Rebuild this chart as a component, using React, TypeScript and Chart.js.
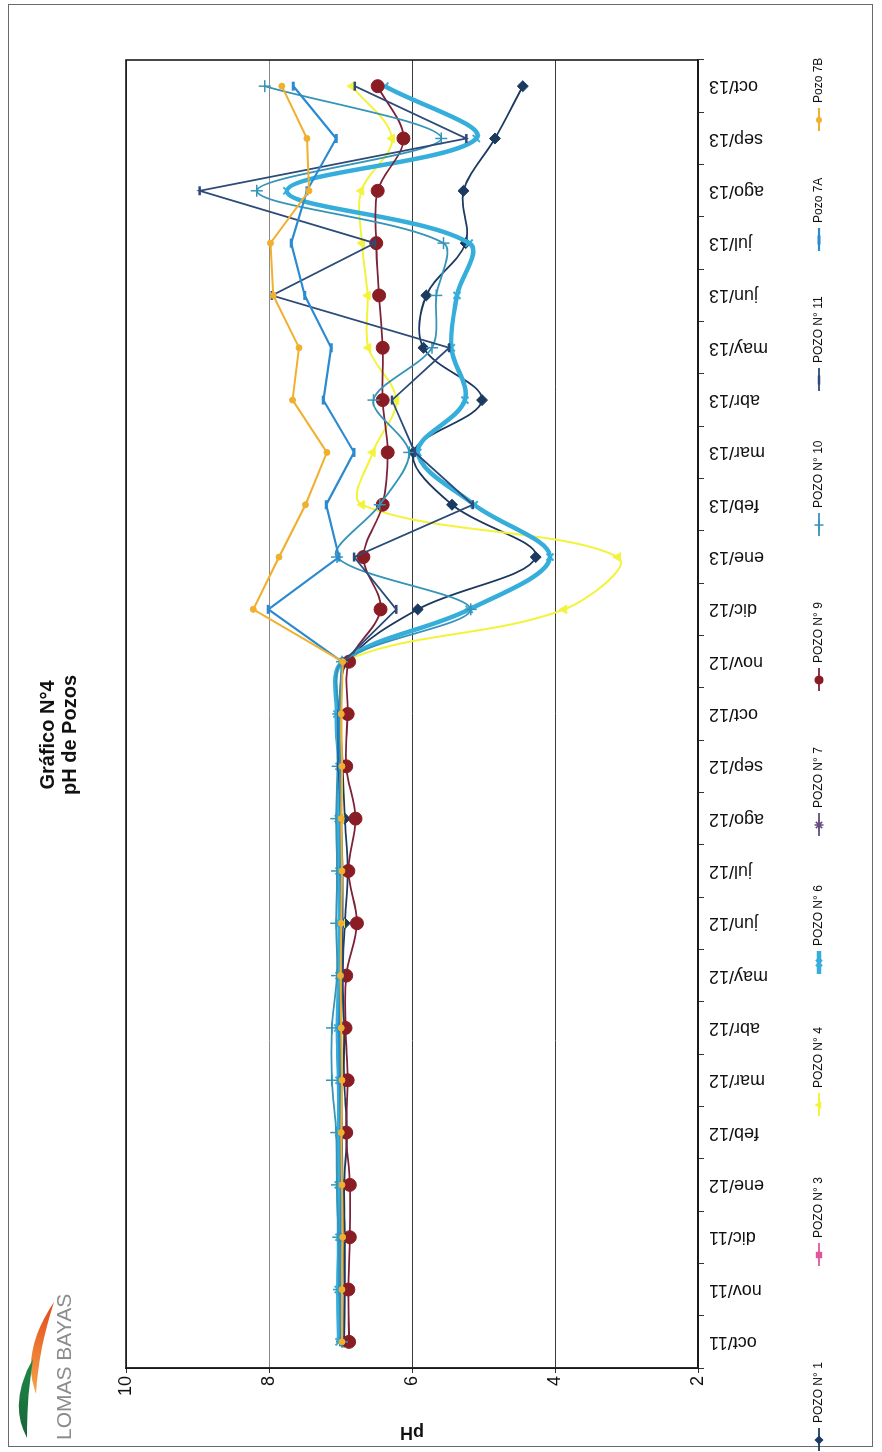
import React, { useEffect, useRef } from 'react';
import { Chart, registerables } from 'chart.js';

Chart.register(...registerables);

// ---------- DATA ----------
const months = [
  'oct/11', 'nov/11', 'dic/11', 'ene/12', 'feb/12', 'mar/12', 'abr/12', 'may/12', 'jun/12',
  'jul/12', 'ago/12', 'sep/12', 'oct/12', 'nov/12', 'dic/12', 'ene/13', 'feb/13', 'mar/13',
  'abr/13', 'may/13', 'jun/13', 'jul/13', 'ago/13', 'sep/13', 'oct/13',
];

const phMin = 2;
const phMax = 10;
const phStep = 2;

const pozo1 = [6.95, 6.94, 6.94, 6.95, 6.91, 6.95, 6.95, 6.97, 6.94, 6.9, 6.94, 6.97, 7.0, 6.9, 5.92, 4.27, 5.44, 5.98, 5.02, 5.84, 5.8, 5.25, 5.28, 4.84, 4.45];
const pozo3: (number | null)[] = [null, null, null, null, null, null, null, null, null, null, null, null, null, null, null, null, null, null, null, null, null, null, null, null, null];
const pozo4 = [6.99, 6.98, 6.98, 6.99, 6.99, 6.98, 6.99, 6.99, 6.98, 6.99, 6.99, 6.98, 7.01, 6.96, 3.87, 3.12, 6.7, 6.55, 6.22, 6.61, 6.62, 6.7, 6.71, 6.28, 6.84];
const pozo6 = [7.02, 7.03, 7.02, 7.03, 7.02, 7.02, 7.04, 7.02, 7.01, 7.02, 7.03, 7.02, 7.05, 6.97, 5.2, 4.07, 5.13, 5.92, 5.26, 5.45, 5.37, 5.2, 7.75, 5.1, 6.38];
const pozo7: (number | null)[] = [null, null, null, null, null, null, null, null, null, null, null, null, null, null, null, null, null, null, null, null, null, null, null, null, null];
const pozo9 = [6.88, 6.89, 6.87, 6.87, 6.92, 6.9, 6.93, 6.92, 6.77, 6.89, 6.79, 6.92, 6.9, 6.88, 6.44, 6.68, 6.41, 6.34, 6.41, 6.41, 6.46, 6.5, 6.48, 6.12, 6.48];
const pozo10 = [6.98, 7.02, 7.03, 7.05, 7.06, 7.12, 7.12, 7.05, 7.06, 7.05, 7.06, 7.04, 7.03, 6.98, 5.18, 7.05, 6.45, 6.04, 6.54, 5.72, 5.66, 5.56, 8.17, 5.59, 8.06];
const pozo11 = [6.97, 6.97, 6.96, 6.97, 6.98, 6.99, 6.99, 6.97, 6.97, 6.97, 6.99, 7.03, 7.03, 6.96, 6.22, 6.81, 5.15, 5.96, 6.28, 5.48, 7.96, 6.52, 8.97, 5.24, 6.8];
const pozo7A = [7.0, 7.0, 7.0, 6.99, 7.0, 7.01, 7.02, 7.0, 6.99, 7.0, 7.0, 7.01, 7.02, 6.98, 8.01, 7.02, 7.2, 6.81, 7.24, 7.13, 7.5, 7.69, 7.47, 7.06, 7.66];
const pozo7B = [6.98, 6.98, 6.97, 6.98, 6.99, 6.98, 6.99, 7.0, 6.99, 6.98, 6.99, 6.98, 6.99, 6.97, 8.22, 7.86, 7.49, 7.19, 7.67, 7.58, 7.94, 7.98, 7.44, 7.47, 7.82];

const seriesLabels = ['POZO N° 1', 'POZO N° 3', 'POZO N° 4', 'POZO N° 6', 'POZO N° 7', 'POZO N° 9', 'POZO N° 10', 'POZO N° 11', 'Pozo 7A', 'Pozo 7B'];
const seriesValues = [pozo1, pozo3, pozo4, pozo6, pozo7, pozo9, pozo10, pozo11, pozo7A, pozo7B];

const chartTitle = ['Gráfico N°4', 'pH de Pozos'];
const axisTitle = 'pH';
const logoText = 'LOMAS BAYAS';

// ---------- STYLES / LAYOUT ----------
type Style = { color: string; fill: string; width: number; point: string; radius: number; pw: number; tension: number };
const styles: Style[] = [
  { color: '#1c3a60', fill: '#1c3a60', width: 1.8, point: 'rectRot', radius: 5.5, pw: 1, tension: 0.35 },
  { color: '#e2559b', fill: '#e2559b', width: 1.8, point: 'rect', radius: 4, pw: 1, tension: 0.35 },
  { color: '#f4f33c', fill: '#f4f33c', width: 2, point: 'triangle', radius: 5, pw: 1, tension: 0.35 },
  { color: '#36aedb', fill: '#36aedb', width: 4.5, point: 'crossRot', radius: 5, pw: 2, tension: 0.35 },
  { color: '#664c80', fill: '#664c80', width: 1.8, point: 'star', radius: 5, pw: 1.5, tension: 0.35 },
  { color: '#7c2138', fill: '#8a1c24', width: 1.8, point: 'circle', radius: 6.5, pw: 1, tension: 0.35 },
  { color: '#3594b8', fill: '#3594b8', width: 1.8, point: 'cross', radius: 6, pw: 1.5, tension: 0.3 },
  { color: '#2c4b78', fill: '#2c4b78', width: 1.8, point: 'line', radius: 4.5, pw: 2.5, tension: 0 },
  { color: '#2b8ad0', fill: '#2b8ad0', width: 2.2, point: 'line', radius: 4.5, pw: 3, tension: 0 },
  { color: '#f0b02e', fill: '#f0b02e', width: 2, point: 'circle', radius: 3, pw: 1, tension: 0 },
];
// legend marker centres (canvas x, before the page rotation)
const legendSlots = [12, 197, 347, 489, 627, 772, 927, 1072, 1212, 1332];

const FONT = '"Liberation Sans", Arial, sans-serif';

function drawMarker(ctx: CanvasRenderingContext2D, style: string, x: number, y: number, r: number, fill: string, stroke: string, lw: number) {
  ctx.save();
  ctx.fillStyle = fill;
  ctx.strokeStyle = stroke;
  ctx.lineWidth = lw;
  ctx.beginPath();
  switch (style) {
    case 'circle':
      ctx.arc(x, y, r, 0, Math.PI * 2);
      ctx.fill();
      break;
    case 'rectRot':
      ctx.moveTo(x, y - r); ctx.lineTo(x + r, y); ctx.lineTo(x, y + r); ctx.lineTo(x - r, y); ctx.closePath();
      ctx.fill();
      break;
    case 'rect':
      ctx.rect(x - r * 0.8, y - r * 0.8, r * 1.6, r * 1.6);
      ctx.fill();
      break;
    case 'triangle':
      ctx.moveTo(x, y - r); ctx.lineTo(x + r * 0.87, y + r * 0.5); ctx.lineTo(x - r * 0.87, y + r * 0.5); ctx.closePath();
      ctx.fill();
      break;
    case 'cross':
      ctx.moveTo(x - r, y); ctx.lineTo(x + r, y); ctx.moveTo(x, y - r); ctx.lineTo(x, y + r);
      ctx.stroke();
      break;
    case 'crossRot':
      ctx.moveTo(x - r * 0.7, y - r * 0.7); ctx.lineTo(x + r * 0.7, y + r * 0.7);
      ctx.moveTo(x + r * 0.7, y - r * 0.7); ctx.lineTo(x - r * 0.7, y + r * 0.7);
      ctx.stroke();
      break;
    case 'star':
      ctx.moveTo(x - r, y); ctx.lineTo(x + r, y); ctx.moveTo(x, y - r); ctx.lineTo(x, y + r);
      ctx.moveTo(x - r * 0.7, y - r * 0.7); ctx.lineTo(x + r * 0.7, y + r * 0.7);
      ctx.moveTo(x + r * 0.7, y - r * 0.7); ctx.lineTo(x - r * 0.7, y + r * 0.7);
      ctx.stroke();
      break;
    case 'line':
    default:
      ctx.moveTo(x - r, y); ctx.lineTo(x + r, y);
      ctx.stroke();
  }
  ctx.restore();
}

const plotBorder = {
  id: 'plotBorder',
  beforeDatasetsDraw(chart: any) {
    const { ctx, chartArea: a } = chart;
    ctx.save();
    ctx.strokeStyle = '#1a1a1a';
    ctx.lineWidth = 1.6;
    ctx.strokeRect(a.left, a.top, a.right - a.left, a.bottom - a.top);
    ctx.restore();
  },
};

const legendPlugin = {
  id: 'pozoLegend',
  afterDraw(chart: any) {
    const ctx: CanvasRenderingContext2D = chart.ctx;
    ctx.save();
    ctx.font = '12px ' + FONT;
    ctx.textBaseline = 'middle';
    ctx.textAlign = 'left';
    const y = 819;
    chart.data.datasets.forEach((ds: any, i: number) => {
      const st = styles[i];
      const cx = legendSlots[i];
      ctx.strokeStyle = st.color;
      ctx.lineWidth = Math.min(st.width, 4.5);
      ctx.beginPath();
      ctx.moveTo(cx - 11, y);
      ctx.lineTo(cx + 12, y);
      ctx.stroke();
      drawMarker(ctx, st.point, cx, y, Math.min(st.radius, 4.5), st.fill, st.fill, Math.max(1, st.pw));
      ctx.fillStyle = '#111';
      ctx.fillText(ds.label, cx + 17, y);
    });
    ctx.restore();
  },
};

const logoPlugin = {
  id: 'logo',
  afterDraw(chart: any) {
    const ctx: CanvasRenderingContext2D = chart.ctx;
    ctx.save();
    const g1 = ctx.createLinearGradient(150, 50, 55, 35);
    g1.addColorStop(0, '#e4481b');
    g1.addColorStop(1, '#f5a84a');
    ctx.fillStyle = g1;
    ctx.beginPath();
    ctx.moveTo(150, 54);
    ctx.quadraticCurveTo(100, 20, 58, 36);
    ctx.quadraticCurveTo(100, 38, 150, 54);
    ctx.fill();
    const g2 = ctx.createLinearGradient(92, 32, 15, 25);
    g2.addColorStop(0, '#1f8a45');
    g2.addColorStop(1, '#17643a');
    ctx.fillStyle = g2;
    ctx.beginPath();
    ctx.moveTo(93, 33);
    ctx.quadraticCurveTo(50, 8, 14, 27);
    ctx.quadraticCurveTo(50, 26, 93, 33);
    ctx.fill();
    ctx.fillStyle = '#8c8c8c';
    ctx.font = '21px ' + FONT;
    ctx.textBaseline = 'alphabetic';
    ctx.fillText(logoText, 12, 71, 156);
    ctx.restore();
  },
};

export default function App() {
  const ref = useRef<HTMLCanvasElement | null>(null);

  useEffect(() => {
    if (!ref.current) return;
    const datasets = seriesValues.map((vals, i) => {
      const st = styles[i];
      return {
        label: seriesLabels[i],
        data: vals,
        borderColor: st.color,
        backgroundColor: st.fill,
        borderWidth: st.width,
        pointStyle: st.point,
        pointRadius: st.radius,
        pointHoverRadius: st.radius,
        pointBorderWidth: st.pw,
        pointBackgroundColor: st.fill,
        pointBorderColor: st.fill,
        tension: st.tension,
        spanGaps: true,
        order: 20 - i,
        yAxisID: 'y',
      };
    });

    const chart = new Chart(ref.current, {
      type: 'line',
      data: { labels: months, datasets },
      plugins: [plotBorder, legendPlugin, logoPlugin],
      options: {
        animation: false,
        responsive: false,
        devicePixelRatio: 1,
        layout: { padding: { left: 0, right: 18, top: 0, bottom: 110 } },
        plugins: {
          legend: { display: false },
          tooltip: { enabled: false },
          title: {
            display: true,
            text: chartTitle,
            color: '#111',
            font: { family: FONT, size: 20, weight: 'bold', lineHeight: 1.1 },
            padding: { top: 37, bottom: 45 },
          },
        },
        scales: {
          x: {
            type: 'category',
            offset: true,
            grid: { display: true, drawOnChartArea: false, drawTicks: true, tickLength: 6, offset: true, color: '#333' },
            border: { display: true, color: '#1a1a1a', width: 1.6 },
            ticks: {
              autoSkip: false,
              minRotation: 90,
              maxRotation: 90,
              padding: 5,
              color: '#111',
              font: { family: FONT, size: 18 },
            },
            afterFit(s: any) { s.height = 74; },
          },
          y: {
            type: 'linear',
            position: 'left',
            min: phMin,
            max: phMax,
            ticks: { stepSize: phStep, color: '#111', padding: 3, font: { family: FONT, size: 18 } },
            grid: {
              color: (c: any) => (c.tick && c.tick.value === 8 ? '#8a8a8a' : '#3a3a3a'),
              lineWidth: 1,
              drawTicks: true,
              tickLength: 5,
              tickColor: '#333',
            },
            border: { display: true, color: '#1a1a1a', width: 1.6 },
            title: { display: true, text: axisTitle, color: '#111', font: { family: FONT, size: 18, weight: 'bold' }, padding: { top: 9, bottom: 0 } },
            afterFit(s: any) { s.width = 84; },
          },
          y2: {
            type: 'linear',
            position: 'right',
            display: true,
            grid: { display: false, drawTicks: false },
            border: { display: false },
            ticks: { display: false },
            afterFit(s: any) { s.width = 42; },
          },
        },
      },
    } as any);
    return () => chart.destroy();
  }, []);

  return (
    <div style={{ position: 'fixed', left: 0, top: 0, width: 882, height: 1452, background: '#fff', overflow: 'hidden' }}>
      <div style={{ position: 'absolute', left: 8, top: 4, width: 865, height: 1443, border: '1px solid #6a6a6a', boxSizing: 'border-box' }} />
      <div
        style={{
          position: 'absolute',
          left: 0,
          top: 0,
          width: 1452,
          height: 882,
          transformOrigin: '0 0',
          transform: 'translate(0px, 1452px) rotate(-90deg)',
        }}
      >
        <canvas ref={ref} width={1452} height={882} style={{ display: 'block', width: 1452, height: 882 }} />
      </div>
    </div>
  );
}
